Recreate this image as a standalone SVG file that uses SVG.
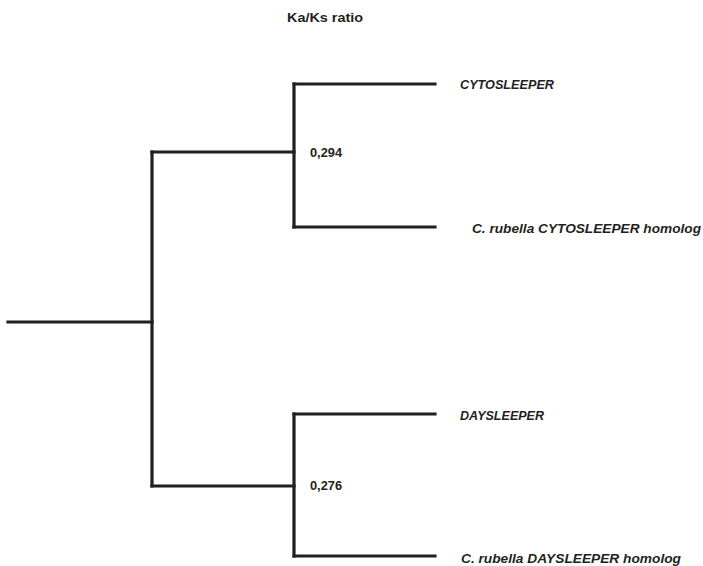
<svg xmlns="http://www.w3.org/2000/svg" width="703" height="566" viewBox="0 0 703 566">
<style>
.ln{stroke:#231f20;stroke-width:3.2;fill:none;stroke-linecap:square;stroke-linejoin:miter}
.t{font-family:"Liberation Sans",Arial,sans-serif;font-weight:bold;font-size:13.5px;fill:#231f20}
.it{font-style:italic}
</style>
<rect width="703" height="566" fill="#ffffff"/>
<text id="title" class="t" x="287" y="22" textLength="76" lengthAdjust="spacingAndGlyphs">Ka/Ks ratio</text>
<g id="connectors">
<path class="ln" d="M8,322 H152"/>
<path class="ln" d="M152,152 V486"/>
<path class="ln" d="M152,152 H294"/>
<path class="ln" d="M152,486 H294"/>
<path class="ln" d="M294,84 V227"/>
<path class="ln" d="M294,84 H435"/>
<path class="ln" d="M294,227 H435"/>
<path class="ln" d="M294,414 V556"/>
<path class="ln" d="M294,414 H435"/>
<path class="ln" d="M294,556 H435"/>
</g>
<g id="node-cyto-clade"><text class="t" x="310" y="157" textLength="32" lengthAdjust="spacingAndGlyphs">0,294</text></g>
<g id="node-day-clade"><text class="t" x="310" y="490" textLength="32" lengthAdjust="spacingAndGlyphs">0,276</text></g>
<g id="leaf-cytosleeper"><text class="t it" x="460" y="89" textLength="94" lengthAdjust="spacingAndGlyphs">CYTOSLEEPER</text></g>
<g id="leaf-crubella-cyto"><text class="t it" x="472" y="233" textLength="229" lengthAdjust="spacingAndGlyphs">C. rubella CYTOSLEEPER homolog</text></g>
<g id="leaf-daysleeper"><text class="t it" x="460" y="420" textLength="84" lengthAdjust="spacingAndGlyphs">DAYSLEEPER</text></g>
<g id="leaf-crubella-day"><text class="t it" x="461" y="563" textLength="220" lengthAdjust="spacingAndGlyphs">C. rubella DAYSLEEPER homolog</text></g>
</svg>
